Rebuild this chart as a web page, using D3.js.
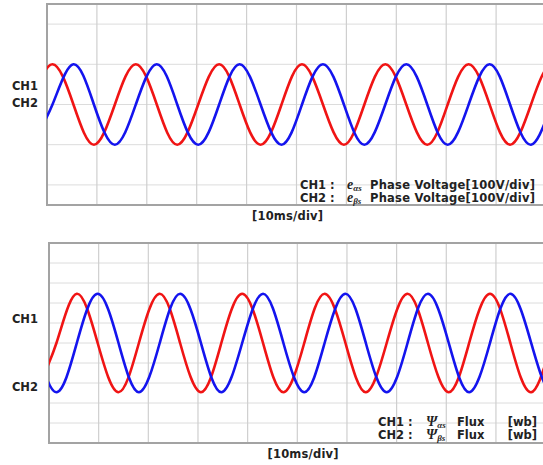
<!DOCTYPE html>
<html>
<head>
<meta charset="utf-8">
<script src="https://cdn.jsdelivr.net/npm/d3@7"></script>
<style>
  html, body { margin: 0; padding: 0; background: #fff; }
  #chart { width: 543px; height: 465px; }
  svg { display: block; }
</style>
</head>
<body>
<div id="chart"></div>
<script>
// 时间轴刻度 (ms)
const timeTicks = [10, 20, 30, 40, 50, 60, 70, 80, 90, 100];

// 上图: 相电压 (V), 取每 1/4 周期的读数
const voltTimes = [-3.1, 1.1, 5.3, 9.4, 13.6, 17.8, 22.0, 26.1, 30.3, 34.5, 38.6, 42.8, 47.0,
  51.1, 55.3, 59.5, 63.6, 67.8, 72.0, 76.2, 80.3, 84.5, 88.7, 92.8, 97.0, 101.2, 105.3];
const eAlpha = [0, 100, 0, -100, 0, 100, 0, -100, 0, 100, 0, -100, 0,
  100, 0, -100, 0, 100, 0, -100, 0, 100, 0, -100, 0, 100, 0];
const eBeta = [-100, 0, 100, 0, -100, 0, 100, 0, -100, 0, 100, 0, -100,
  0, 100, 0, -100, 0, 100, 0, -100, 0, 100, 0, -100, 0, 100];
const voltGrid = [-200, -100, 0, 100, 200];

// 下图: 磁链 (div)
const fluxTimes = [-2.7, 1.5, 5.6, 9.8, 14.0, 18.1, 22.3, 26.4, 30.6, 34.7, 38.9, 43.1, 47.2,
  51.4, 55.5, 59.7, 63.8, 68.0, 72.2, 76.3, 80.5, 84.6, 88.8, 92.9, 97.1, 101.3, 105.4];
const psiAlpha = [-2.46, 0, 2.46, 0, -2.46, 0, 2.46, 0, -2.46, 0, 2.46, 0, -2.46,
  0, 2.46, 0, -2.46, 0, 2.46, 0, -2.46, 0, 2.46, 0, -2.46, 0, 2.46];
const psiBeta = [0, -2.46, 0, 2.46, 0, -2.46, 0, 2.46, 0, -2.46, 0, 2.46, 0,
  -2.46, 0, 2.46, 0, -2.46, 0, 2.46, 0, -2.46, 0, 2.46, 0, -2.46, 0];
const fluxGrid = [-4, -3, -2, -1, 0, 1, 2, 3, 4];

class ScopePanel {
  constructor(svg, opt) {
    this.svg = svg;
    this.opt = opt;
    this.id = opt.id;
    this.init();
  }
  init() {
    this.initScale();
    this.initGrid();
    this.initLines();
    this.initText();
    return this;
  }
  initScale() {
    const o = this.opt;
    // 10ms 一格
    this.xScale = d3.scaleLinear().domain([0, 10]).range([o.left, o.left + o.div]);
    this.yScale = d3.scaleLinear()
      .domain(o.yDomain)
      .range([o.bottom, o.top]);
  }
  initGrid() {
    const o = this.opt;
    const right = 560;
    this.g = this.svg.append('g').attr('id', `${this.id}Group`);

    this.svg.append('clipPath').attr('id', `${this.id}Clip`)
      .append('rect')
      .attr('x', o.left).attr('y', o.top)
      .attr('width', right - o.left).attr('height', o.bottom - o.top);

    // 横线
    this.g.append('g').selectAll('line')
      .data(o.grid)
      .join('line')
      .attr('x1', o.left).attr('x2', right)
      .attr('y1', d => this.yScale(d)).attr('y2', d => this.yScale(d))
      .attr('stroke', '#dcdcdc').attr('stroke-width', 1);
    // 竖线
    this.g.append('g').selectAll('line')
      .data(timeTicks)
      .join('line')
      .attr('x1', d => this.xScale(d)).attr('x2', d => this.xScale(d))
      .attr('y1', o.top).attr('y2', o.bottom)
      .attr('stroke', '#cfcfcf').attr('stroke-width', 1.2);
    // 边框
    this.g.append('path')
      .attr('d', `M${right},${o.top}H${o.left}V${o.bottom}H${right}`)
      .attr('fill', 'none')
      .attr('stroke', '#a3a3a3')
      .attr('stroke-width', 2);
  }
  initLines() {
    const o = this.opt;
    const line = d3.line()
      .x(d => this.xScale(d[0]))
      .y(d => this.yScale(d[1]))
      .curve(d3.curveNatural);
    const lg = this.g.append('g').attr('clip-path', `url(#${this.id}Clip)`);
    o.series.forEach(s => {
      lg.append('path')
        .datum(o.times.map((t, i) => [t, s.values[i]]))
        .attr('d', line)
        .attr('fill', 'none')
        .attr('stroke', s.color)
        .attr('stroke-width', 2.6);
    });
  }
  initText() {
    const o = this.opt;
    const font = '"DejaVu Sans", Verdana, sans-serif';
    // CH1 / CH2 标签
    this.svg.append('g').selectAll('text')
      .data(o.chLabels)
      .join('text')
      .attr('x', 38)
      .attr('y', d => this.yScale(d.at) + 4)
      .attr('text-anchor', 'end')
      .attr('font-family', font)
      .attr('font-weight', 'bold')
      .attr('font-size', '11.5px')
      .attr('fill', '#222')
      .text(d => d.text);
    // 时间轴说明
    this.svg.append('text')
      .attr('x', o.xLabelX)
      .attr('y', o.xLabelY)
      .attr('text-anchor', 'middle')
      .attr('font-family', font)
      .attr('font-weight', 'bold')
      .attr('font-size', '11.5px')
      .attr('textLength', 71)
      .attr('lengthAdjust', 'spacing')
      .attr('fill', '#222')
      .text('[10ms/div]');
    // 图例
    const lg = this.svg.append('g');
    o.legend.forEach((row, i) => {
      const y = o.legendY[i];
      lg.append('text')
        .attr('x', o.legendX[0]).attr('y', y)
        .attr('font-family', font).attr('font-weight', 'bold')
        .attr('font-size', '11.5px').attr('fill', '#222')
        .text(row.ch + ' :');
      const sym = lg.append('text')
        .attr('x', o.legendX[1]).attr('y', y)
        .attr('font-family', '"Liberation Serif", "DejaVu Serif", serif')
        .attr('font-style', 'italic').attr('font-weight', 'bold')
        .attr('font-size', o.symSize).attr('fill', '#222');
      sym.append('tspan').text(row.sym);
      sym.append('tspan').attr('dy', 2).attr('font-size', '9px').text(row.sub);
      row.parts.forEach(p => {
        const t = lg.append('text')
          .attr('x', p.x).attr('y', y)
          .attr('text-anchor', p.anchor || 'start')
          .attr('font-family', font).attr('font-weight', 'bold')
          .attr('font-size', '11.5px').attr('fill', '#222')
          .text(p.text);
        if (p.len) t.attr('textLength', p.len).attr('lengthAdjust', 'spacing');
      });
    });
  }
}

const svg = d3.select('#chart').append('svg')
  .attr('width', 543)
  .attr('height', 465)
  .attr('viewBox', '0 0 543 465');

new ScopePanel(svg, {
  id: 'volt',
  left: 47, top: 4, bottom: 205, div: 49.9,
  yDomain: [-250, 250],
  grid: voltGrid,
  times: voltTimes,
  series: [
    { values: eAlpha, color: '#f01414' },
    { values: eBeta, color: '#1414ee' }
  ],
  chLabels: [{ text: 'CH1', at: 45 }, { text: 'CH2', at: 3 }],
  xLabelX: 287.5, xLabelY: 220,
  legendX: [300, 347],
  legendY: [188.5, 201.5],
  symSize: '14px',
  legend: [
    { ch: 'CH1', sym: 'e', sub: 'αs', parts: [{ text: 'Phase Voltage[100V/div]', x: 370, len: 165 }] },
    { ch: 'CH2', sym: 'e', sub: 'βs', parts: [{ text: 'Phase Voltage[100V/div]', x: 370, len: 165 }] }
  ]
});

new ScopePanel(svg, {
  id: 'flux',
  left: 49, top: 243, bottom: 443, div: 49.66,
  yDomain: [-5, 5],
  grid: fluxGrid,
  times: fluxTimes,
  series: [
    { values: psiAlpha, color: '#f01414' },
    { values: psiBeta, color: '#1414ee' }
  ],
  chLabels: [{ text: 'CH1', at: 1.2 }, { text: 'CH2', at: -2.2 }],
  xLabelX: 303, xLabelY: 458,
  legendX: [378, 426],
  legendY: [425.5, 438.5],
  symSize: '14px',
  legend: [
    { ch: 'CH1', sym: 'Ψ', sub: 'αs', parts: [{ text: 'Flux', x: 457 }, { text: '[wb]', x: 537, anchor: 'end' }] },
    { ch: 'CH2', sym: 'Ψ', sub: 'βs', parts: [{ text: 'Flux', x: 457 }, { text: '[wb]', x: 537, anchor: 'end' }] }
  ]
});
</script>
</body>
</html>
